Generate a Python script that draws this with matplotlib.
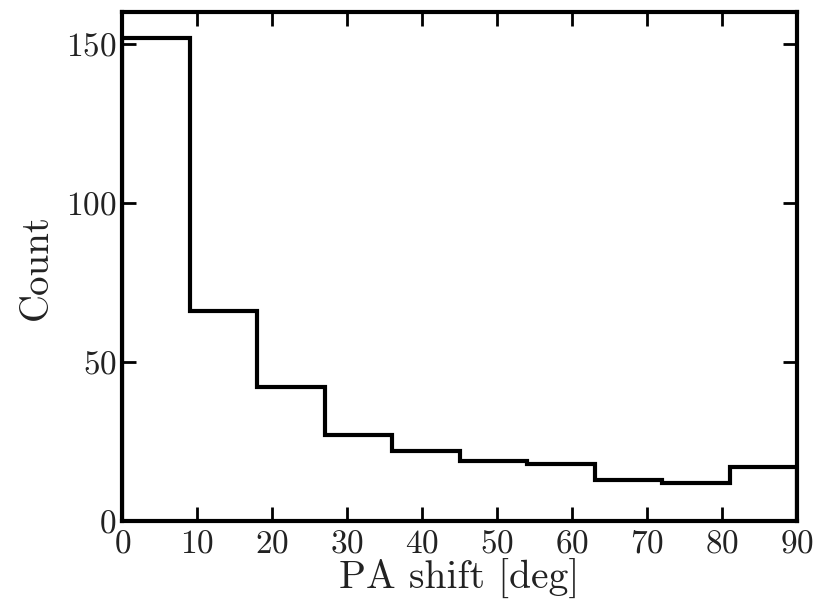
import numpy as np
import matplotlib
matplotlib.use("Agg")
import matplotlib.pyplot as plt

# histogram of PA shifts, 10 bins of 9 deg
bin_edges = [0, 9, 18, 27, 36, 45, 54, 63, 72, 81, 90]
counts = [152, 66, 42, 27, 22, 19, 18, 13, 12, 17]

plt.rcParams["font.family"] = "serif"
plt.rcParams["font.serif"] = ["cmr10"]
plt.rcParams["mathtext.fontset"] = "cm"
plt.rcParams["axes.formatter.use_mathtext"] = True

fig = plt.figure(figsize=(8.2, 6.13), dpi=100)
ax = fig.add_axes([0.149, 0.150, 0.823, 0.830])

ax.stairs(counts, bin_edges, color="black", linewidth=3.0)

ax.set_xlim(0, 90)
ax.set_ylim(0, 160)
ax.set_xticks(np.arange(0, 91, 10))
ax.set_yticks([0, 50, 100, 150])

for sp in ax.spines.values():
    sp.set_linewidth(3.0)

ax.tick_params(which="both", direction="in", top=True, right=True,
               length=10, width=2.0, labelsize=24, labelcolor="#222222")
ax.tick_params(axis="x", pad=6)
ax.tick_params(axis="y", pad=4)

ax.set_xlabel("PA shift [deg]", fontsize=28.5, labelpad=0, color="#222222")
ax.set_ylabel("Count", fontsize=28, labelpad=8, color="#222222")

plt.savefig("out.png", dpi=100)
